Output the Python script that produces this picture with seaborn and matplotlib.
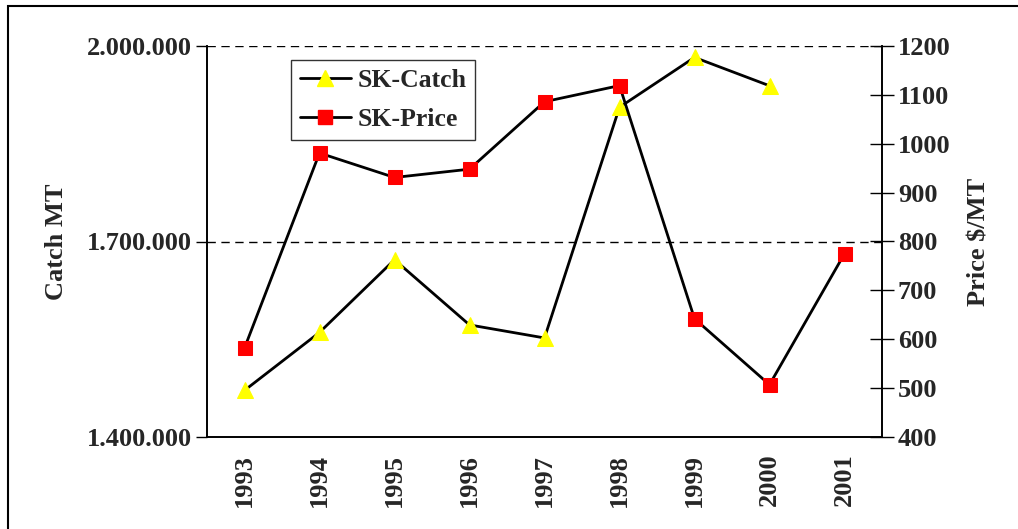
import matplotlib
matplotlib.use("Agg")
import matplotlib.pyplot as plt
import matplotlib.ticker as mticker
from matplotlib.lines import Line2D
from matplotlib.patches import Rectangle
import seaborn as sns
import pandas as pd
import numpy as np

years = ["1993", "1994", "1995", "1996", "1997", "1998", "1999", "2000", "2001"]
catch = [1471500, 1560500, 1672000, 1572000, 1552000, 1906000, 1982500, 1939000, np.nan]
price = [582, 981, 931, 948, 1086, 1119, 642, 507, 775]

sns.set_theme(style="white")
plt.rcParams["font.family"] = ["Liberation Serif", "DejaVu Serif"]
plt.rcParams["font.weight"] = "bold"

FS = 19
df = pd.DataFrame({"year": years, "catch": catch, "price": price})

fig = plt.figure(figsize=(10.18, 5.29), dpi=100)
ax = fig.add_axes([207/1018, 1-437/529, 675/1018, 391/529])
ax2 = ax.twinx()

sns.lineplot(data=df, x="year", y="catch", ax=ax, color="black", lw=2,
             marker="^", markersize=12, markerfacecolor="#FFFF00",
             markeredgecolor="#FFFF00", sort=False)
sns.lineplot(data=df, x="year", y="price", ax=ax2, color="black", lw=2,
             marker="s", markersize=10.5, markerfacecolor="#FF0000",
             markeredgecolor="#FF0000", sort=False)

ax.set_xlim(-0.5, len(years) - 0.5)
ax.set_ylim(1400000, 2000000)
ax2.set_ylim(400, 1200)

ax.set_yticks([1400000, 1700000, 2000000])
ax.yaxis.set_major_formatter(mticker.FuncFormatter(lambda v, p: f"{int(v):,}".replace(",", ".")))
ax2.set_yticks(range(400, 1201, 100))

ax.set_xticks(range(len(years)))
ax.set_xticklabels(years, rotation=90, fontsize=FS, fontweight="bold")
ax.set_xticks(np.arange(-0.5, len(years), 1), minor=True)
ax.tick_params(axis="x", which="major", length=0, pad=12)
ax.tick_params(axis="x", which="minor", length=8, width=1, color="black", direction="out")
ax.tick_params(axis="y", which="major", length=8, width=1, color="black", direction="out",
               labelsize=FS, pad=3)
ax2.tick_params(axis="y", which="major", length=17, width=1, color="black", direction="inout",
                labelsize=FS, pad=3)
for lab in ax.get_yticklabels() + ax2.get_yticklabels():
    lab.set_fontweight("bold")

ax.set_xlabel("")
ax.set_ylabel("Catch MT", fontsize=FS, fontweight="bold")
ax2.set_ylabel("Price $/MT", fontsize=FS, fontweight="bold")
ax.yaxis.set_label_coords(-0.206, 0.5)
ax2.yaxis.set_label_coords(1.127, 0.5)

for a in (ax, ax2):
    a.spines["top"].set_visible(False)
    for s in ("left", "right", "bottom"):
        a.spines[s].set_color("black")
        a.spines[s].set_linewidth(1.2)

ax.grid(False)
ax2.grid(False)
for yv in [1700000, 2000000]:
    ax.axhline(yv, color="black", lw=1, ls=(0, (6, 4)), zorder=0)

handles = [
    Line2D([], [], color="black", lw=2, marker="^", markersize=11,
           markerfacecolor="#FFFF00", markeredgecolor="#FFFF00"),
    Line2D([], [], color="black", lw=2, marker="s", markersize=10,
           markerfacecolor="#FF0000", markeredgecolor="#FF0000"),
]
leg = ax2.legend(handles, ["SK-Catch", "SK-Price"], loc="upper left",
                 bbox_to_anchor=(0.124, 0.965), frameon=True, fancybox=False,
                 prop={"size": 18.5, "weight": "bold"}, borderpad=0.35,
                 handlelength=2.0, handletextpad=0.25, labelspacing=0.62,
                 borderaxespad=0)
leg.get_frame().set_edgecolor("black")
leg.get_frame().set_linewidth(1)
leg.get_frame().set_boxstyle("square", pad=0)

fig.patches.append(Rectangle((8/1018, -0.1), 1.2, (1 - 6/529) + 0.1,
                             transform=fig.transFigure, fill=False,
                             edgecolor="black", lw=1.5))

fig.savefig("out.png", dpi=100)
